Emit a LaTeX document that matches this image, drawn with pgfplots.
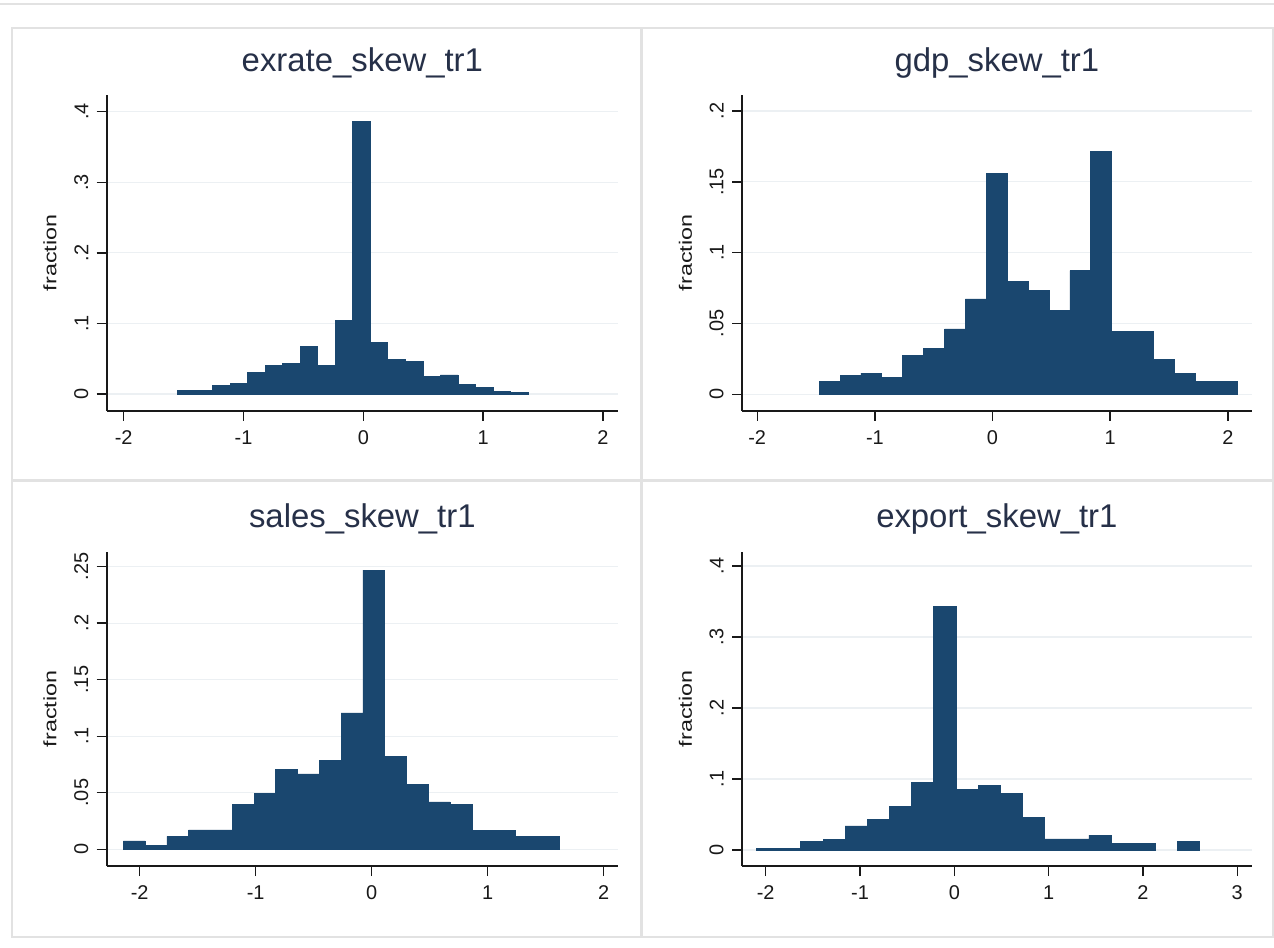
\documentclass[border=0pt]{standalone}
\usepackage{pgfplots}
\pgfplotsset{compat=1.18}
\usepackage{fontspec}
\setmainfont{Liberation Sans}
\newfontfamily\fracfont[FakeStretch=1.3]{Liberation Sans}
\definecolor{barcol}{RGB}{26,71,111}
\definecolor{gridcol}{RGB}{236,240,243}
\definecolor{framecol}{RGB}{226,226,226}
\definecolor{titlecol}{RGB}{38,48,72}
\pgfplotsset{
  stata/.style={
    scale only axis,
    anchor=south west,
    axis lines*=left,
    axis line style={line width=0.9bp, black!90},
    tick align=outside,
    major tick length=5bp,
    tick style={line width=0.7bp, black!90},
    ymajorgrids,
    grid style={line width=0.6bp, gridcol},
    ticklabel style={font=\fontsize{10}{12}\selectfont, text=black!90},
    yticklabel style={rotate=90, anchor=south, inner sep=4bp},
    xticklabel style={yshift=-1.5bp},
    title style={font=\fontsize{16.5}{19}\selectfont, text=titlecol, anchor=base, at={(axis description cs:0.5,1)}, yshift=6bp},
    every axis y label/.style={at={(axis description cs:-0.111,0.5)}, rotate=90, anchor=center, font=\fracfont\fontsize{9}{11}\selectfont, text=black!90},
  },
  bars/.style={ybar interval, fill=barcol, draw=barcol, line width=0.4bp},
}
\begin{document}
\begin{tikzpicture}
\path[use as bounding box] (0,0) rectangle (637bp,474bp);
\fill[white] (0,0) rectangle (637bp,474bp);
\draw[framecol, line width=0.8bp] (0,472bp) -- (637bp,472bp);
\draw[framecol, line width=0.8bp] (6bp,234bp) rectangle (320.5bp,460bp);
\draw[framecol, line width=0.8bp] (321bp,234bp) rectangle (636.5bp,460bp);
\draw[framecol, line width=0.8bp] (6bp,5.5bp) rectangle (320.5bp,233.5bp);
\draw[framecol, line width=0.8bp] (321bp,5.5bp) rectangle (636.5bp,233.5bp);

% exrate
\begin{axis}[stata, at={(53.35bp,268.65bp)}, width=255.65bp, height=157.85bp,
  xmin=-2.1414, xmax=2.1255, ymin=-0.02366, ymax=0.42366,
  xtick={-2,-1,0,1,2}, xticklabels={-2,-1,0,1,2},
  ytick={0,0.1,0.2,0.3,0.4}, yticklabels={0,.1,.2,.3,.4},
  title={exrate\_skew\_tr1}, ylabel={fraction}]
\addplot[bars] coordinates {
(-1.55,0.005) (-1.40375,0.005) (-1.2575,0.012) (-1.11125,0.015) (-0.965,0.030)
(-0.81875,0.040) (-0.6725,0.043) (-0.52625,0.067) (-0.38,0.040) (-0.23375,0.104)
(-0.0875,0.386) (0.05875,0.073) (0.205,0.049) (0.35125,0.046) (0.4975,0.025)
(0.64375,0.027) (0.79,0.013) (0.93625,0.009) (1.0825,0.003) (1.22875,0.002)
(1.375,0.002)};
\end{axis}

% gdp
\begin{axis}[stata, at={(371bp,268.65bp)}, width=254.85bp, height=157.85bp,
  xmin=-2.1292, xmax=2.2031, ymin=-0.01158, ymax=0.2113,
  xtick={-2,-1,0,1,2}, xticklabels={-2,-1,0,1,2},
  ytick={0,0.05,0.1,0.15,0.2}, yticklabels={0,.05,.1,.15,.2},
  title={gdp\_skew\_tr1}, ylabel={fraction}]
\addplot[bars] coordinates {
(-1.474,0.0089) (-1.2963,0.0136) (-1.1186,0.015) (-0.9409,0.012) (-0.7632,0.0273)
(-0.5855,0.0322) (-0.4078,0.0461) (-0.2301,0.0673) (-0.0524,0.156) (0.1253,0.0795)
(0.303,0.0734) (0.4807,0.0595) (0.6584,0.0873) (0.8361,0.1713) (1.0138,0.0442)
(1.1915,0.0442) (1.3692,0.0245) (1.5469,0.015) (1.7246,0.0089) (1.9023,0.0089)
(2.08,0.0089)};
\end{axis}

% sales
\begin{axis}[stata, at={(53.35bp,41bp)}, width=255.65bp, height=157.15bp,
  xmin=-2.2845, xmax=2.1233, ymin=-0.01477, ymax=0.2632,
  xtick={-2,-1,0,1,2}, xticklabels={-2,-1,0,1,2},
  ytick={0,0.05,0.1,0.15,0.2,0.25}, yticklabels={0,.05,.1,.15,.2,.25},
  title={sales\_skew\_tr1}, ylabel={fraction}]
\addplot[bars] coordinates {
(-2.141,0.0074) (-1.9532,0.0038) (-1.7654,0.0115) (-1.5776,0.0171) (-1.3898,0.0171)
(-1.202,0.040) (-1.0142,0.049) (-0.8264,0.0708) (-0.6386,0.0666) (-0.4508,0.0784)
(-0.263,0.1206) (-0.0752,0.247) (0.1126,0.082) (0.3004,0.0572) (0.4882,0.0419)
(0.676,0.040) (0.8638,0.0168) (1.0516,0.0168) (1.2394,0.0112) (1.4272,0.0112)
(1.615,0.0112)};
\end{axis}

% export
\begin{axis}[stata, at={(371bp,41bp)}, width=254.85bp, height=157.15bp,
  xmin=-2.2513, xmax=3.1538, ymin=-0.02254, ymax=0.4201,
  xtick={-2,-1,0,1,2,3}, xticklabels={-2,-1,0,1,2,3},
  ytick={0,0.1,0.2,0.3,0.4}, yticklabels={0,.1,.2,.3,.4},
  title={export\_skew\_tr1}, ylabel={fraction}]
\addplot[bars] coordinates {
(-2.097,0.0023) (-1.862,0.0023) (-1.627,0.0117) (-1.392,0.015) (-1.157,0.0338)
(-0.922,0.0432) (-0.687,0.061) (-0.452,0.0948) (-0.217,0.3427) (0.018,0.0854)
(0.253,0.0915) (0.488,0.0798) (0.723,0.046) (0.958,0.0155) (1.193,0.0155)
(1.428,0.0211) (1.663,0.0094) (1.898,0.0094) (2.133,0.0094)};
\addplot[bars] coordinates {(2.368,0.0117) (2.603,0.0117)};
\end{axis}
\end{tikzpicture}
\end{document}
